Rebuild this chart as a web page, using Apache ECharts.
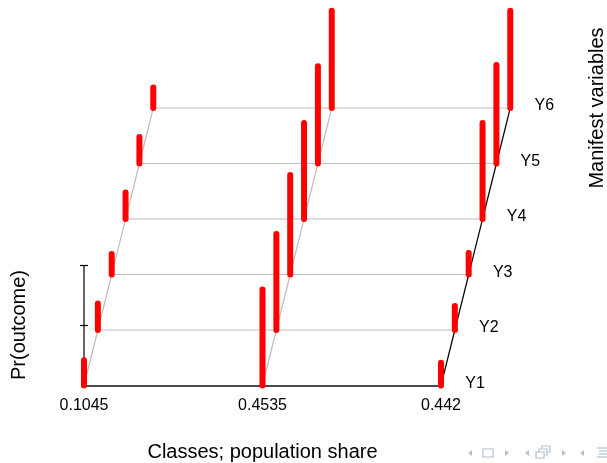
<!DOCTYPE html>
<html>
<head>
<meta charset="utf-8">
<script src="https://cdn.jsdelivr.net/npm/echarts@6/dist/echarts.min.js"></script>
<style>
  html, body { margin: 0; padding: 0; background: #fff; }
  #chart { width: 607px; height: 463px; }
</style>
</head>
<body>
<div id="chart"></div>
<script>
// classes (population share) and manifest variables
const classShares = ['0.1045', '0.4535', '0.442'];
const variables = ['Y1', 'Y2', 'Y3', 'Y4', 'Y5', 'Y6'];
// Pr(outcome) per class, Y1..Y6
const class1Probs = [0.21, 0.22, 0.17, 0.22, 0.22, 0.17];
const class2Probs = [0.80, 0.80, 0.83, 0.80, 0.81, 0.81];
const class3Probs = [0.19, 0.20, 0.18, 0.80, 0.82, 0.81];
const scaleTicks = [0.5, 1];

const classProbs = [class1Probs, class2Probs, class3Probs];

// depth offsets of each variable row (x in class units, y in probability units)
const DX = 0.0776;
const DY = 0.4625;

let bars = [];
classProbs.forEach((probs, c) => {
  probs.forEach((p, v) => bars.push([c, v, p]));
});

// frame segments: [x1, y1, x2, y2, black?]
let nLast = variables.length - 1;
let nCls = classShares.length - 1;
let frame = [];
for (let v = 1; v < variables.length; v++) {
  frame.push([v * DX, v * DY, nCls + v * DX, v * DY, 0]);
}
for (let c = 0; c < classShares.length; c++) {
  frame.push([c, 0, c + nLast * DX, nLast * DY, c === nCls ? 1 : 0]);
}

let myChart = echarts.init(document.getElementById('chart'));
const FONT = 'Liberation Sans, Arial, sans-serif';
const NAV = '#b3c2d1';

let option = {
  animation: false,
  grid: { left: 84, right: 166, top: 25.5, bottom: 77.5, containLabel: false, outerBoundsMode: 'none' },
  xAxis: {
    type: 'value',
    min: 0,
    max: 2,
    interval: 1,
    splitLine: { show: false },
    axisTick: { show: false },
    axisLine: { show: true, lineStyle: { color: '#111', width: 1.6 } },
    axisLabel: {
      margin: 12,
      fontSize: 16,
      color: '#000',
      fontFamily: FONT,
      formatter: v => classShares[v] || ''
    },
    name: 'Classes; population share',
    nameLocation: 'middle',
    nameGap: 57,
    nameTextStyle: { fontSize: 20, color: '#000', fontFamily: FONT }
  },
  yAxis: { type: 'value', min: 0, max: 3, show: false },
  series: [
    {
      type: 'custom',
      name: 'frame',
      silent: true,
      z: 1,
      data: frame,
      renderItem: function(params, api) {
        let a = api.coord([api.value(0), api.value(1)]);
        let b = api.coord([api.value(2), api.value(3)]);
        let black = api.value(4) === 1;
        return {
          type: 'line',
          shape: { x1: a[0], y1: a[1], x2: b[0], y2: b[1] },
          style: { stroke: black ? '#000' : '#bebebe', lineWidth: 1.2 }
        };
      }
    },
    {
      type: 'custom',
      name: 'scale',
      silent: true,
      z: 2,
      data: scaleTicks,
      renderItem: function(params, api) {
        let p = api.value(0);
        let t = api.coord([0, p]);
        let children = [
          { type: 'line', shape: { x1: t[0] - 4, y1: t[1], x2: t[0] + 4, y2: t[1] }, style: { stroke: '#000', lineWidth: 1.2 } }
        ];
        if (params.dataIndex === 0) {
          let b = api.coord([0, 0]);
          let top = api.coord([0, Math.max.apply(null, scaleTicks)]);
          children.push({ type: 'line', shape: { x1: b[0], y1: b[1], x2: top[0], y2: top[1] }, style: { stroke: '#000', lineWidth: 1.2 } });
        }
        return { type: 'group', children: children };
      }
    },
    {
      type: 'custom',
      name: 'bars',
      silent: true,
      z: 3,
      data: bars,
      renderItem: function(params, api) {
        let c = api.value(0), v = api.value(1), p = api.value(2);
        let b = api.coord([c + v * DX, v * DY]);
        let t = api.coord([c + v * DX, v * DY + p]);
        return {
          type: 'line',
          shape: { x1: b[0], y1: b[1], x2: t[0], y2: t[1] },
          style: { stroke: '#ff0000', lineWidth: 6, lineCap: 'round' }
        };
      }
    },
    {
      type: 'custom',
      name: 'varLabels',
      silent: true,
      z: 4,
      data: variables.map((name, v) => [v]),
      renderItem: function(params, api) {
        let v = api.value(0);
        let pt = api.coord([nCls + v * DX, v * DY]);
        return {
          type: 'text',
          x: pt[0] + 34,
          y: pt[1] - 2,
          style: {
            text: variables[v],
            fontSize: 16,
            fontFamily: FONT,
            fill: '#000',
            textAlign: 'center',
            textVerticalAlign: 'middle'
          }
        };
      }
    }
  ],
  graphic: [
    {
      type: 'text', x: 19, y: 325, rotation: Math.PI / 2,
      style: { text: 'Pr(outcome)', fontSize: 20, fontFamily: FONT, fill: '#000', textAlign: 'center', textVerticalAlign: 'middle' }
    },
    {
      type: 'text', x: 597, y: 108, rotation: Math.PI / 2,
      style: { text: 'Manifest variables', fontSize: 20, fontFamily: FONT, fill: '#000', textAlign: 'center', textVerticalAlign: 'middle' }
    },
    // beamer navigation symbols
    { type: 'polygon', shape: { points: [[468, 453], [472, 450], [472, 456]] }, style: { fill: NAV } },
    { type: 'rect', shape: { x: 483, y: 449, width: 10, height: 8 }, style: { fill: 'none', stroke: NAV, lineWidth: 1.2 } },
    { type: 'polygon', shape: { points: [[509, 453], [505, 450], [505, 456]] }, style: { fill: NAV } },
    { type: 'polygon', shape: { points: [[525, 453], [529, 450], [529, 456]] }, style: { fill: NAV } },
    { type: 'rect', shape: { x: 542, y: 446, width: 8, height: 6 }, style: { fill: '#fff', stroke: NAV, lineWidth: 1.2 } },
    { type: 'rect', shape: { x: 539, y: 449, width: 8, height: 6 }, style: { fill: '#fff', stroke: NAV, lineWidth: 1.2 } },
    { type: 'rect', shape: { x: 536, y: 452, width: 8, height: 6 }, style: { fill: '#fff', stroke: NAV, lineWidth: 1.2 } },
    { type: 'polygon', shape: { points: [[566, 453], [562, 450], [562, 456]] }, style: { fill: NAV } },
    { type: 'polygon', shape: { points: [[580, 453], [584, 450], [584, 456]] }, style: { fill: NAV } },
    { type: 'line', shape: { x1: 597, y1: 448, x2: 607, y2: 448 }, style: { stroke: NAV, lineWidth: 1.2 } },
    { type: 'line', shape: { x1: 599, y1: 451, x2: 607, y2: 451 }, style: { stroke: NAV, lineWidth: 1.2 } },
    { type: 'line', shape: { x1: 599, y1: 454, x2: 607, y2: 454 }, style: { stroke: NAV, lineWidth: 1.2 } },
    { type: 'line', shape: { x1: 597, y1: 457, x2: 607, y2: 457 }, style: { stroke: NAV, lineWidth: 1.2 } }
  ]
};
myChart.setOption(option);
window.onresize = myChart.resize;
</script>
</body>
</html>
